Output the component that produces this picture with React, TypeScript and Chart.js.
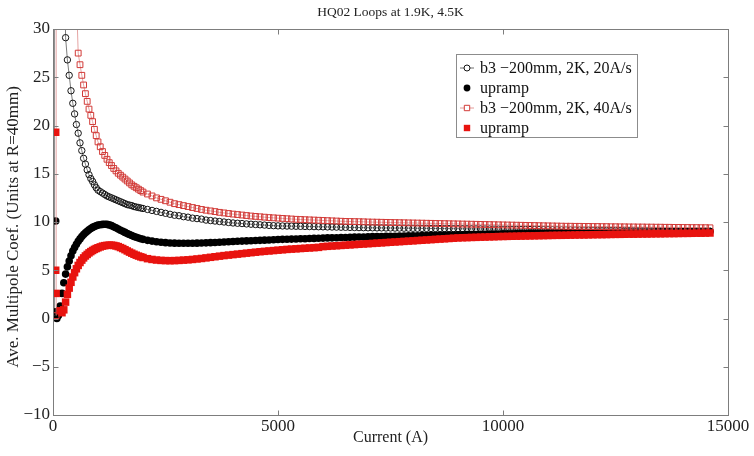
import React, { useEffect, useRef } from "react";
import { Chart, registerables } from "chart.js";

Chart.register(...registerables);

const SERIF = "'Liberation Serif', 'Times New Roman', serif";

const TITLE = "HQ02 Loops at 1.9K, 4.5K";
const X_TITLE = "Current (A)";
const Y_TITLE = "Ave. Multipole Coef. (Units at R=40mm)";
const LEGEND_LABELS = [
  "b3 \u2212200mm, 2K, 20A/s",
  "upramp",
  "b3 \u2212200mm, 2K, 40A/s",
  "upramp",
];
const X_TICKS = [0, 5000, 10000, 15000];
const Y_TICKS = [-10, -5, 0, 5, 10, 15, 20, 25, 30];

// Current (A) sample positions shared by the four series
const CURRENT_LOW = [120, 160, 200, 240, 280, 320, 360, 400, 440, 480, 520, 560, 600, 640, 680, 720, 760, 800, 840, 880, 920, 960, 1000];
const CURRENT_MID = [1050, 1100, 1150, 1200, 1250, 1300, 1350, 1400, 1450, 1500, 1550, 1600, 1650, 1700, 1750, 1800, 1850, 1900, 1950, 2000];
const CURRENT_HIGH = [
  2100, 2200, 2300, 2400, 2500, 2600, 2700, 2800, 2900,
  3000, 3100, 3200, 3300, 3400, 3500, 3600, 3700, 3800, 3900,
  4000, 4100, 4200, 4300, 4400, 4500, 4600, 4700, 4800, 4900,
  5000, 5100, 5200, 5300, 5400, 5500, 5600, 5700, 5800, 5900,
  6000, 6100, 6200, 6300, 6400, 6500, 6600, 6700, 6800, 6900,
  7000, 7100, 7200, 7300, 7400, 7500, 7600, 7700, 7800, 7900,
  8000, 8100, 8200, 8300, 8400, 8500, 8600, 8700, 8800, 8900,
  9000, 9100, 9200, 9300, 9400, 9500, 9600, 9700, 9800, 9900,
  10000, 10100, 10200, 10300, 10400, 10500, 10600, 10700, 10800, 10900,
  11000, 11100, 11200, 11300, 11400, 11500, 11600, 11700, 11800, 11900,
  12000, 12100, 12200, 12300, 12400, 12500, 12600, 12700, 12800, 12900,
  13000, 13100, 13200, 13300, 13400, 13500, 13600, 13700, 13800, 13900,
  14000, 14100, 14200, 14300, 14400, 14500, 14600,
];
const CURRENT = [...CURRENT_LOW, ...CURRENT_MID, ...CURRENT_HIGH];

// b3 -200mm, 2K, 20A/s (open circles)
const B3_20AS_START_I = [30, 30];
const B3_20AS_START_V = [0.2, 100];
const B3_20AS = [
  null, null, null, null, 29.1, 26.8, 25.2, 23.6, 22.3, 21.2, 20.1, 19.2, 18.2, 17.4, 16.6, 16.0, 15.4, 14.9, 14.5, 14.2, 13.85, 13.55, 13.3,
  13.15, 13.0, 12.85, 12.7, 12.6, 12.5, 12.4, 12.3, 12.2, 12.1, 12.0, 11.9, 11.8, 11.75, 11.7, 11.6, 11.55, 11.5, 11.45, 11.4,
  11.3, 11.2, 11.1, 11.0, 10.9, 10.8, 10.7, 10.65, 10.55,
  10.5, 10.4, 10.35, 10.3, 10.2, 10.15, 10.1, 10.05, 10.0, 9.95,
  9.9, 9.87, 9.84, 9.8, 9.77, 9.74, 9.71, 9.68, 9.65, 9.62,
  9.6, 9.59, 9.58, 9.57, 9.56, 9.55, 9.54, 9.53, 9.52, 9.51,
  9.5, 9.49, 9.48, 9.47, 9.46, 9.45, 9.44, 9.43, 9.42, 9.41,
  9.4, 9.4, 9.39, 9.39, 9.38, 9.38, 9.37, 9.37, 9.36, 9.36,
  9.35, 9.35, 9.34, 9.34, 9.33, 9.33, 9.32, 9.32, 9.31, 9.31,
  9.3, 9.3, 9.29, 9.29, 9.28, 9.28, 9.27, 9.27, 9.26, 9.26,
  9.25, 9.25, 9.24, 9.24, 9.23, 9.23, 9.22, 9.22, 9.21, 9.21,
  9.2, 9.2, 9.19, 9.19, 9.18, 9.18, 9.17, 9.17, 9.16, 9.16,
  9.15, 9.15, 9.14, 9.14, 9.13, 9.13, 9.12, 9.12, 9.11, 9.11,
  9.1, 9.1, 9.1, 9.09, 9.09, 9.09, 9.08, 9.08, 9.08, 9.07,
  9.07, 9.07, 9.06, 9.06, 9.06, 9.05, 9.05,
];

// upramp (filled black circles)
const UPRAMP_20_START_I = [60, 60, 85];
const UPRAMP_20_START_V = [10.1, 0.7, 0.0];
const UPRAMP_20 = [
  0.3, 1.3, 2.6, 3.7, 4.6, 5.35, 5.95, 6.5, 7.0, 7.35, 7.7, 8.0, 8.25, 8.5, 8.7, 8.88, 9.04, 9.2, 9.33, 9.44, 9.54, 9.61, 9.68,
  9.72, 9.75, 9.77, 9.75, 9.7, 9.62, 9.5, 9.4, 9.28, 9.15, 9.03, 8.92, 8.8, 8.7, 8.6, 8.5, 8.42, 8.34, 8.27, 8.2,
  8.1, 8.02, 7.95, 7.9, 7.86, 7.83, 7.81, 7.8, 7.8,
  7.8, 7.8, 7.81, 7.82, 7.84, 7.86, 7.88, 7.9, 7.93, 7.96,
  7.98, 8.0, 8.02, 8.04, 8.06, 8.08, 8.1, 8.12, 8.14, 8.16,
  8.18, 8.2, 8.21, 8.23, 8.24, 8.26, 8.27, 8.29, 8.3, 8.32,
  8.33, 8.35, 8.36, 8.37, 8.39, 8.4, 8.41, 8.43, 8.44, 8.45,
  8.47, 8.48, 8.49, 8.5, 8.51, 8.52, 8.53, 8.54, 8.55, 8.56,
  8.57, 8.58, 8.59, 8.6, 8.61, 8.62, 8.63, 8.64, 8.65, 8.66,
  8.67, 8.68, 8.69, 8.7, 8.71, 8.72, 8.73, 8.74, 8.75, 8.76,
  8.77, 8.78, 8.79, 8.8, 8.8, 8.81, 8.82, 8.83, 8.83, 8.84,
  8.85, 8.86, 8.86, 8.87, 8.88, 8.88, 8.89, 8.9, 8.9, 8.91,
  8.91, 8.92, 8.92, 8.93, 8.93, 8.94, 8.94, 8.95, 8.95, 8.96,
  8.96, 8.97, 8.97, 8.97, 8.98, 8.98, 8.98, 8.99, 8.99, 8.99,
  9.0, 9.0, 9.0, 9.0, 9.01, 9.01, 9.01,
];

// b3 -200mm, 2K, 40A/s (open squares)
const B3_40AS_START_I = [70, 70];
const B3_40AS_START_V = [0.3, 100];
const B3_40AS = [
  null, null, null, null, null, null, null, null, null, null, null, 27.5, 26.3, 25.2, 24.2, 23.3, 22.5, 21.7, 21.05, 20.4, 19.6, 18.95, 18.3,
  17.8, 17.3, 16.9, 16.5, 16.15, 15.85, 15.55, 15.3, 15.05, 14.85, 14.65, 14.45, 14.25, 14.05, 13.85, 13.7, 13.55, 13.4, 13.25, 13.1,
  12.9, 12.7, 12.5, 12.35, 12.2, 12.05, 11.9, 11.8, 11.7,
  11.6, 11.5, 11.4, 11.3, 11.22, 11.15, 11.08, 11.0, 10.94, 10.88,
  10.82, 10.77, 10.72, 10.67, 10.62, 10.58, 10.54, 10.5, 10.46, 10.43,
  10.4, 10.37, 10.34, 10.31, 10.28, 10.26, 10.24, 10.22, 10.2, 10.18,
  10.16, 10.14, 10.12, 10.1, 10.08, 10.06, 10.05, 10.04, 10.03, 10.02,
  10.0, 9.99, 9.98, 9.97, 9.96, 9.95, 9.94, 9.93, 9.92, 9.91,
  9.9, 9.89, 9.88, 9.87, 9.86, 9.85, 9.84, 9.83, 9.82, 9.81,
  9.8, 9.79, 9.78, 9.77, 9.76, 9.75, 9.74, 9.73, 9.72, 9.71,
  9.7, 9.69, 9.68, 9.67, 9.66, 9.65, 9.64, 9.63, 9.62, 9.61,
  9.6, 9.59, 9.58, 9.57, 9.56, 9.56, 9.55, 9.55, 9.54, 9.54,
  9.53, 9.53, 9.52, 9.52, 9.51, 9.51, 9.5, 9.5, 9.49, 9.49,
  9.48, 9.48, 9.47, 9.47, 9.46, 9.46, 9.45, 9.45, 9.44, 9.44,
  9.43, 9.43, 9.42, 9.42, 9.41, 9.41, 9.4,
];

// upramp (filled red squares)
const UPRAMP_40_START_I = [60, 60, 70];
const UPRAMP_40_START_V = [19.3, 5.0, 2.6];
const UPRAMP_40 = [
  null, 0.8, 0.6, 0.9, 1.7, 2.5, 3.15, 3.75, 4.3, 4.75, 5.15, 5.5, 5.8, 6.05, 6.28, 6.48, 6.64, 6.8, 6.93, 7.05, 7.16, 7.25, 7.33,
  7.42, 7.5, 7.55, 7.58, 7.6, 7.6, 7.57, 7.52, 7.45, 7.35, 7.25, 7.13, 7.0, 6.88, 6.77, 6.66, 6.56, 6.47, 6.39, 6.32,
  6.2, 6.12, 6.06, 6.02, 6.0, 5.99, 6.0, 6.02, 6.05,
  6.08, 6.12, 6.17, 6.22, 6.28, 6.34, 6.4, 6.46, 6.52, 6.57,
  6.62, 6.67, 6.72, 6.77, 6.82, 6.87, 6.92, 6.96, 7.0, 7.04,
  7.08, 7.12, 7.16, 7.19, 7.22, 7.25, 7.28, 7.31, 7.34, 7.37,
  7.45, 7.48, 7.51, 7.54, 7.57, 7.6, 7.63, 7.66, 7.69, 7.72,
  7.75, 7.78, 7.81, 7.84, 7.87, 7.9, 7.93, 7.96, 7.99, 8.02,
  8.05, 8.08, 8.11, 8.14, 8.17, 8.2, 8.23, 8.26, 8.29, 8.32,
  8.35, 8.37, 8.38, 8.4, 8.41, 8.43, 8.44, 8.46, 8.47, 8.49,
  8.5, 8.51, 8.52, 8.53, 8.54, 8.55, 8.56, 8.57, 8.58, 8.59,
  8.6, 8.61, 8.62, 8.62, 8.63, 8.64, 8.65, 8.66, 8.66, 8.67,
  8.68, 8.69, 8.69, 8.7, 8.71, 8.72, 8.72, 8.73, 8.74, 8.74,
  8.75, 8.76, 8.76, 8.77, 8.78, 8.78, 8.79, 8.8, 8.8, 8.81,
  8.82, 8.82, 8.83, 8.84, 8.84, 8.85, 8.86,
];

const C_BLACK_MARK = "#151515";
const C_BLACK_LINE = "#6e6e6e";
const C_RED_MARK = "#d23a37";
const C_RED_LINE = "#e29a98";
const C_RED_FILL = "#e8130f";

function toPoints(startI: number[], startV: number[], values: (number | null)[]) {
  const pts: { x: number; y: number }[] = startI.map((x, i) => ({ x, y: startV[i] }));
  CURRENT.forEach((x, i) => {
    const y = values[i];
    if (y !== null && y !== undefined) pts.push({ x, y });
  });
  return pts;
}

const fmtMinus = (v: number) => (v < 0 ? "\u2212" + Math.abs(v) : String(v));

const framePlugin = {
  id: "matlabFrame",
  afterDraw(chart: any) {
    const { ctx, chartArea: a, scales } = chart;
    const xs = scales.x;
    const ys = scales.y;
    ctx.save();
    const L = Math.round(a.left) + 0.5;
    const R = Math.round(a.right) + 0.5;
    const T = Math.round(a.top) + 0.5;
    const B = Math.round(a.bottom) + 0.5;
    ctx.strokeStyle = "#7d7d7d";
    ctx.lineWidth = 1;
    ctx.strokeRect(L, T, R - L, B - T);
    const tl = 5;
    ctx.beginPath();
    Y_TICKS.forEach((v) => {
      const y = Math.round(ys.getPixelForValue(v)) + 0.5;
      ctx.moveTo(L, y);
      ctx.lineTo(L + tl, y);
      ctx.moveTo(R, y);
      ctx.lineTo(R - tl, y);
    });
    X_TICKS.forEach((v) => {
      const x = Math.round(xs.getPixelForValue(v)) + 0.5;
      ctx.moveTo(x, B);
      ctx.lineTo(x, B - tl);
      ctx.moveTo(x, T);
      ctx.lineTo(x, T + tl);
    });
    ctx.stroke();

    // titles
    ctx.fillStyle = "#222";
    ctx.textAlign = "center";
    ctx.textBaseline = "middle";
    const cx = (a.left + a.right) / 2;
    ctx.font = `13.5px ${SERIF}`;
    ctx.fillText(TITLE, cx, 12);
    ctx.font = `16px ${SERIF}`;
    ctx.fillText(X_TITLE, cx, 438);
    ctx.save();
    ctx.translate(14, (a.top + a.bottom) / 2 + 5);
    ctx.rotate(-Math.PI / 2);
    ctx.font = `17px ${SERIF}`;
    ctx.fillText(Y_TITLE, 0, 0);
    ctx.restore();

    // legend
    const lx = 456, ly = 54, lw = 181, lh = 83;
    ctx.fillStyle = "#fff";
    ctx.fillRect(lx, ly, lw, lh);
    ctx.strokeStyle = "#8c8c8c";
    ctx.strokeRect(lx + 0.5, ly + 0.5, lw, lh);
    const sx = 467;
    LEGEND_LABELS.forEach((label, i) => {
      const y = ly + 14 + i * 20;
      if (i === 0 || i === 2) {
        ctx.strokeStyle = i === 0 ? C_BLACK_LINE : C_RED_LINE;
        ctx.lineWidth = 1;
        ctx.beginPath();
        ctx.moveTo(sx - 7, y);
        ctx.lineTo(sx + 7, y);
        ctx.stroke();
        ctx.strokeStyle = i === 0 ? C_BLACK_MARK : C_RED_MARK;
        ctx.fillStyle = "#fff";
        ctx.beginPath();
        if (i === 0) ctx.arc(sx, y, 3, 0, Math.PI * 2);
        else ctx.rect(sx - 2.7, y - 2.7, 5.4, 5.4);
        ctx.fill();
        ctx.stroke();
      } else if (i === 1) {
        ctx.fillStyle = "#000";
        ctx.beginPath();
        ctx.arc(sx, y, 3.4, 0, Math.PI * 2);
        ctx.fill();
      } else {
        ctx.fillStyle = C_RED_FILL;
        ctx.fillRect(sx - 3.2, y - 3.2, 6.4, 6.4);
      }
      ctx.fillStyle = "#111";
      ctx.textAlign = "left";
      ctx.textBaseline = "middle";
      ctx.font = `16px ${SERIF}`;
      ctx.fillText(label, 480, y + 1);
    });
    ctx.restore();
  },
};

export default function App() {
  const canvasRef = useRef<HTMLCanvasElement | null>(null);

  useEffect(() => {
    if (!canvasRef.current) return;
    const chart = new Chart(canvasRef.current, {
      type: "scatter",
      data: {
        datasets: [
          {
            label: LEGEND_LABELS[3],
            data: toPoints(UPRAMP_40_START_I, UPRAMP_40_START_V, UPRAMP_40),
            showLine: false,
            pointStyle: "rect",
            pointRadius: 5.3,
            pointBackgroundColor: C_RED_FILL,
            pointBorderColor: C_RED_FILL,
            pointBorderWidth: 0,
            order: 1,
          },
          {
            label: LEGEND_LABELS[2],
            data: toPoints(B3_40AS_START_I, B3_40AS_START_V, B3_40AS),
            showLine: true,
            borderColor: C_RED_LINE,
            borderWidth: 0.9,
            pointStyle: "rect",
            pointRadius: 4.1,
            pointBackgroundColor: "rgba(0,0,0,0)",
            pointBorderColor: C_RED_MARK,
            pointBorderWidth: 1,
            order: 2,
          },
          {
            label: LEGEND_LABELS[1],
            data: toPoints(UPRAMP_20_START_I, UPRAMP_20_START_V, UPRAMP_20),
            showLine: false,
            pointStyle: "circle",
            pointRadius: 3.8,
            pointBackgroundColor: "#000",
            pointBorderColor: "#000",
            pointBorderWidth: 0,
            order: 3,
          },
          {
            label: LEGEND_LABELS[0],
            data: toPoints(B3_20AS_START_I, B3_20AS_START_V, B3_20AS),
            showLine: true,
            borderColor: C_BLACK_LINE,
            borderWidth: 0.9,
            pointStyle: "circle",
            pointRadius: 3.2,
            pointBackgroundColor: "rgba(0,0,0,0)",
            pointBorderColor: C_BLACK_MARK,
            pointBorderWidth: 1,
            order: 4,
          },
        ],
      },
      options: {
        responsive: false,
        animation: false,
        events: [],
        layout: { padding: { top: 29, right: 26, bottom: 0, left: 0 } },
        plugins: {
          legend: { display: false },
          title: { display: false },
          tooltip: { enabled: false },
        },
        scales: {
          x: {
            type: "linear",
            min: 0,
            max: 15000,
            afterBuildTicks: (s: any) => {
              s.ticks = X_TICKS.map((value) => ({ value }));
            },
            afterFit: (s: any) => {
              s.height = 41;
            },
            grid: { display: false, drawTicks: false },
            border: { display: false },
            ticks: {
              padding: 1,
              maxRotation: 0,
              autoSkip: false,
              color: "#222",
              font: { family: SERIF, size: 17 },
              callback: (v: any) => fmtMinus(Number(v)),
            },
          },
          y: {
            type: "linear",
            min: -10,
            max: 30,
            afterBuildTicks: (s: any) => {
              s.ticks = Y_TICKS.map((value) => ({ value }));
            },
            afterFit: (s: any) => {
              s.width = 53;
            },
            grid: { display: false, drawTicks: false },
            border: { display: false },
            ticks: {
              padding: 3,
              autoSkip: false,
              color: "#222",
              font: { family: SERIF, size: 17 },
              callback: (v: any) => fmtMinus(Number(v)),
            },
          },
        },
      },
      plugins: [framePlugin],
    } as any);
    return () => chart.destroy();
  }, []);

  return (
    <div style={{ position: "fixed", left: 0, top: 0, width: 754, height: 456, background: "#fff" }}>
      <canvas ref={canvasRef} width={754} height={456} style={{ display: "block" }} />
    </div>
  );
}
